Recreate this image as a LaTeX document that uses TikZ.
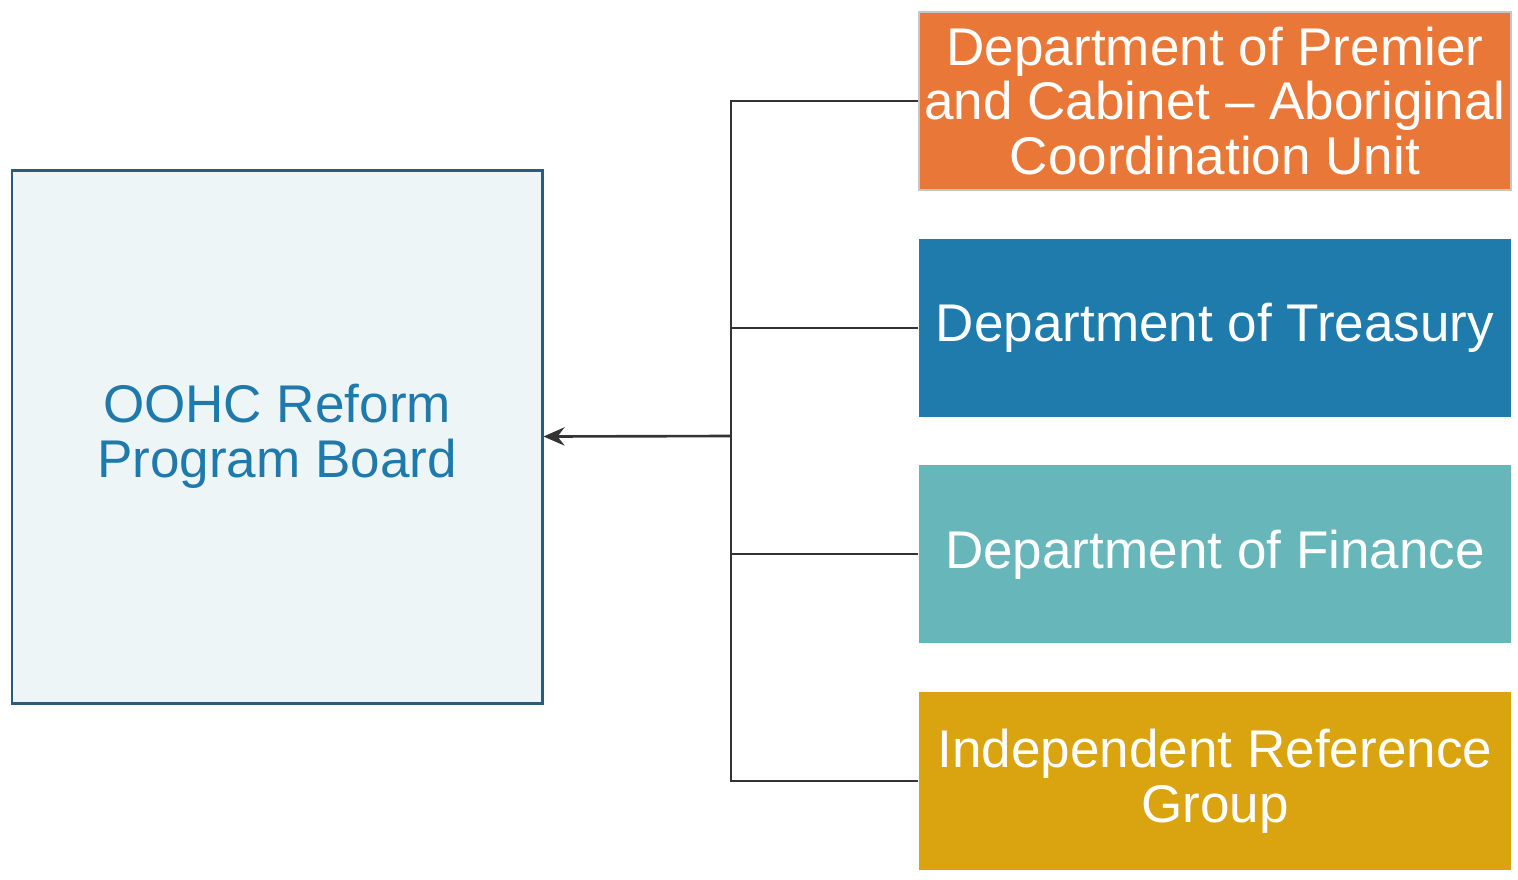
\documentclass[tikz,border=0pt]{standalone}
\usepackage{fontspec}
\setmainfont{Liberation Sans}
\usetikzlibrary{arrows.meta}

\definecolor{boardfill}{HTML}{EDF5F7}
\definecolor{boardline}{HTML}{2D5B7A}
\definecolor{boardtext}{HTML}{1F7AAB}
\definecolor{dpcorange}{HTML}{E97738}
\definecolor{treasblue}{HTML}{1F7BAC}
\definecolor{finteal}{HTML}{66B6BA}
\definecolor{irggold}{HTML}{D9A40F}
\definecolor{wire}{HTML}{333333}

\begin{document}
\begin{tikzpicture}[>={Stealth[length=6pt,width=5.2pt,inset=2pt]},node distance=2.267cm,
	board/.style={draw=boardline,line width=0.85pt,fill=boardfill,minimum width=5.3cm,minimum height=5.33cm,
		text=boardtext,align=center,font=\fontsize{15.1}{15.6}\selectfont},
	dept/.style={minimum width=5.92cm,minimum height=1.78cm,inner sep=0pt,text=white,align=center,
		font=\fontsize{15.1}{15.5}\selectfont},
	link/.style={draw=wire,line width=0.6pt}]

\useasboundingbox (0,0) rectangle (15.18,8.79);

\node[board]   (board)   at (2.77,4.425)     {OOHC Reform\\Program Board};

\node[dept,fill=dpcorange,draw=gray!45,line width=0.5pt]   (dpc)   at (12.15,7.78)   {Department of Premier\\and Cabinet -- Aboriginal\\Coordination Unit};
\node[dept,fill=treasblue]   (treasury)[below of=dpc]      {Department of Treasury};
\node[dept,fill=finteal]   (finance)[below of=treasury]      {Department of Finance};
\node[dept,fill=irggold]   (irg)[below of=finance]      {Independent Reference\\Group};

\coordinate (jn) at (7.31,4.43);

	\draw[link] (dpc.west) -| (jn);
	\draw[link] (treasury.west) -| (jn);
	\draw[link] (finance.west) -| (jn);
	\draw[link] (irg.west) -| (jn);
	\draw[link,line width=0.75pt,->] (jn) -- (board.east);
\end{tikzpicture}
\end{document}
